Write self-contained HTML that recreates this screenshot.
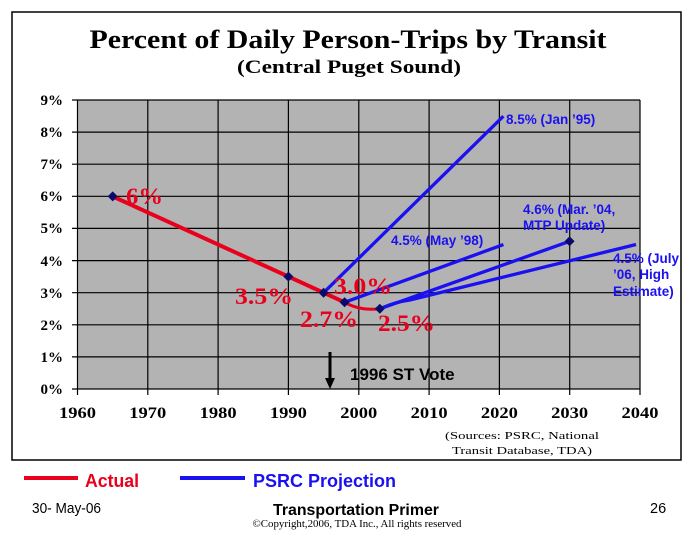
<!DOCTYPE html>
<html><head><meta charset="utf-8"><style>body{margin:0;background:#fff}</style></head><body>
<svg width="695" height="546" xmlns="http://www.w3.org/2000/svg">
<rect x="12" y="12" width="669" height="448" fill="#fff" stroke="#000" stroke-width="1.5"/>
<text x="348" y="48" text-anchor="middle" font-family="Liberation Serif" font-weight="bold" font-size="26" textLength="517" lengthAdjust="spacingAndGlyphs">Percent of Daily Person-Trips by Transit</text>
<text x="349" y="73" text-anchor="middle" font-family="Liberation Serif" font-weight="bold" font-size="19" textLength="224" lengthAdjust="spacingAndGlyphs">(Central Puget Sound)</text>
<rect x="77.5" y="100" width="562.5" height="289" fill="#b3b3b3"/>
<g stroke="#000" stroke-width="1.2">
<line x1="72" y1="100" x2="640" y2="100"/><line x1="72" y1="132.1" x2="640" y2="132.1"/><line x1="72" y1="164.2" x2="640" y2="164.2"/><line x1="72" y1="196.3" x2="640" y2="196.3"/><line x1="72" y1="228.4" x2="640" y2="228.4"/><line x1="72" y1="260.6" x2="640" y2="260.6"/><line x1="72" y1="292.7" x2="640" y2="292.7"/><line x1="72" y1="324.8" x2="640" y2="324.8"/><line x1="72" y1="356.9" x2="640" y2="356.9"/><line x1="72" y1="389" x2="640" y2="389"/>
<line x1="77.5" y1="100" x2="77.5" y2="395"/><line x1="147.8" y1="100" x2="147.8" y2="395"/><line x1="218.1" y1="100" x2="218.1" y2="395"/><line x1="288.4" y1="100" x2="288.4" y2="395"/><line x1="358.8" y1="100" x2="358.8" y2="395"/><line x1="429.1" y1="100" x2="429.1" y2="395"/><line x1="499.4" y1="100" x2="499.4" y2="395"/><line x1="569.7" y1="100" x2="569.7" y2="395"/><line x1="640" y1="100" x2="640" y2="395"/>
</g>
<g font-family="Liberation Serif" font-weight="bold" font-size="15" text-anchor="end">
<text x="63" y="105">9%</text><text x="63" y="137">8%</text><text x="63" y="169">7%</text><text x="63" y="201">6%</text><text x="63" y="233">5%</text><text x="63" y="266">4%</text><text x="63" y="298">3%</text><text x="63" y="330">2%</text><text x="63" y="362">1%</text><text x="63" y="394">0%</text>
</g>
<g font-family="Liberation Serif" font-weight="bold" font-size="16" text-anchor="middle">
<text x="77.5" y="418" textLength="37" lengthAdjust="spacingAndGlyphs">1960</text><text x="147.8" y="418" textLength="37" lengthAdjust="spacingAndGlyphs">1970</text><text x="218.1" y="418" textLength="37" lengthAdjust="spacingAndGlyphs">1980</text><text x="288.4" y="418" textLength="37" lengthAdjust="spacingAndGlyphs">1990</text><text x="358.8" y="418" textLength="37" lengthAdjust="spacingAndGlyphs">2000</text><text x="429.1" y="418" textLength="37" lengthAdjust="spacingAndGlyphs">2010</text><text x="499.4" y="418" textLength="37" lengthAdjust="spacingAndGlyphs">2020</text><text x="569.7" y="418" textLength="37" lengthAdjust="spacingAndGlyphs">2030</text><text x="640" y="418" textLength="37" lengthAdjust="spacingAndGlyphs">2040</text>
</g>
<polyline points="112.7,196.4 288.4,276.6 323.6,292.7 344.6,302.3" fill="none" stroke="#e8001c" stroke-width="4"/>
<path d="M344.6,302.3 Q360,311 379.8,308.8" fill="none" stroke="#e8001c" stroke-width="3"/>
<g stroke="#1a10f0" stroke-width="3.3" fill="none">
<line x1="323.6" y1="292.7" x2="503.4" y2="116.2"/>
<line x1="344.6" y1="302.3" x2="503.4" y2="244.6"/>
<line x1="379.8" y1="308.8" x2="569.6" y2="241.3"/>
<path d="M379.8,308.8 Q395,302 410,300 L636,244.5"/>
</g>
<g fill="#0a0a6a">
<path d="M112.7,191.4 l5,5 -5,5 -5,-5z"/><path d="M288.4,271.6 l5,5 -5,5 -5,-5z"/><path d="M323.6,287.7 l5,5 -5,5 -5,-5z"/><path d="M344.6,297.3 l5,5 -5,5 -5,-5z"/><path d="M379.8,303.8 l5,5 -5,5 -5,-5z"/><path d="M569.6,236.3 l5,5 -5,5 -5,-5z"/>
</g>
<g font-family="Liberation Serif" font-weight="bold" font-size="23" fill="#e8001c">
<text x="126" y="204" textLength="37" lengthAdjust="spacingAndGlyphs">6%</text><text x="235" y="304" textLength="58" lengthAdjust="spacingAndGlyphs">3.5%</text><text x="334" y="294" textLength="58" lengthAdjust="spacingAndGlyphs">3.0%</text><text x="300" y="327" textLength="58" lengthAdjust="spacingAndGlyphs">2.7%</text><text x="378" y="331" textLength="57" lengthAdjust="spacingAndGlyphs">2.5%</text>
</g>
<g font-family="Liberation Sans" font-weight="bold" font-size="13.5" fill="#1a10f0">
<text x="506" y="124">8.5% (Jan ’95)</text>
<text x="391" y="245">4.5% (May ’98)</text>
<text x="523" y="214">4.6% (Mar. ’04,</text><text x="523" y="230">MTP Update)</text>
<text x="613" y="263">4.5% (July</text><text x="613" y="279">’06, High</text><text x="613" y="296">Estimate)</text>
</g>
<line x1="330" y1="352" x2="330" y2="380" stroke="#000" stroke-width="3"/>
<path d="M325,378 L335,378 L330,389z" fill="#000"/>
<text x="350" y="380" font-family="Liberation Sans" font-weight="bold" font-size="17">1996 ST Vote</text>
<g font-family="Liberation Serif" font-size="11">
<text x="445" y="439" textLength="154" lengthAdjust="spacingAndGlyphs">(Sources: PSRC, National</text>
<text x="452" y="454" textLength="140" lengthAdjust="spacingAndGlyphs">Transit Database, TDA)</text>
</g>
<line x1="24" y1="478" x2="78" y2="478" stroke="#e8001c" stroke-width="4"/>
<text x="85" y="487" font-family="Liberation Sans" font-weight="bold" font-size="18" fill="#e8001c" textLength="54" lengthAdjust="spacingAndGlyphs">Actual</text>
<line x1="180" y1="478" x2="245" y2="478" stroke="#1a10f0" stroke-width="4"/>
<text x="253" y="487" font-family="Liberation Sans" font-weight="bold" font-size="18" fill="#1a10f0" textLength="143" lengthAdjust="spacingAndGlyphs">PSRC Projection</text>
<text x="32" y="513" font-family="Liberation Sans" font-size="14.5" textLength="69" lengthAdjust="spacingAndGlyphs">30- May-06</text>
<text x="356" y="515" text-anchor="middle" font-family="Liberation Sans" font-weight="bold" font-size="16" textLength="166" lengthAdjust="spacingAndGlyphs">Transportation Primer</text>
<text x="357" y="527" text-anchor="middle" font-family="Liberation Serif" font-size="10" textLength="209" lengthAdjust="spacingAndGlyphs">©Copyright,2006, TDA Inc., All rights reserved</text>
<text x="650" y="513" font-family="Liberation Sans" font-size="14.5">26</text>
</svg>
</body></html>
